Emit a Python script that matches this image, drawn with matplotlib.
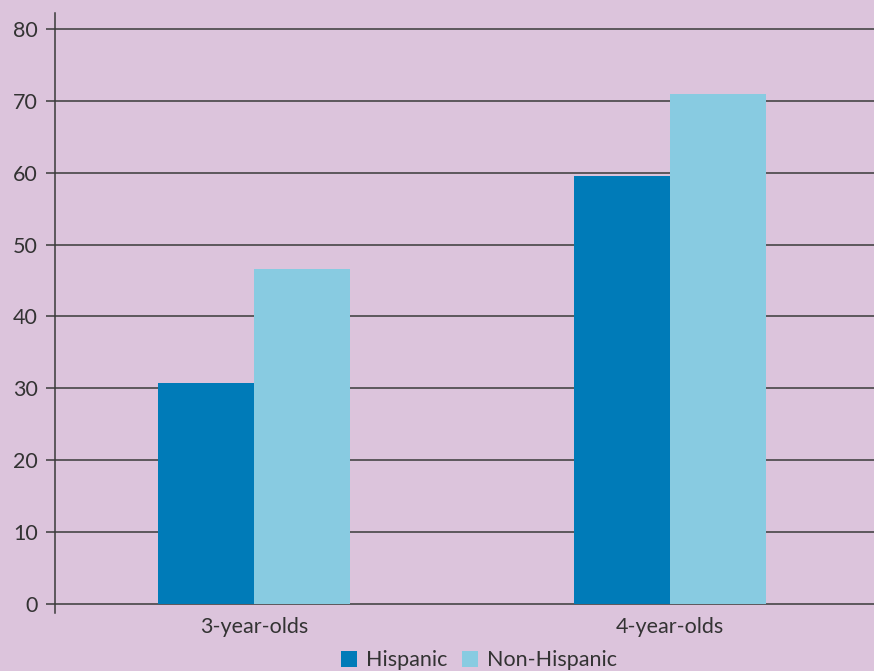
import matplotlib.pyplot as plt
import numpy as np

plt.rcParams['font.family'] = ['Lato', 'DejaVu Sans']

groups = ['3-year-olds', '4-year-olds']
hispanic = [30.7, 59.5]
non_hispanic = [46.6, 71.0]

bg = '#dcc4dc'
dark = '#3a3a3a'

fig = plt.figure(figsize=(8.74, 6.71), dpi=100, facecolor=bg)
ax = fig.add_axes([55 / 874, 58 / 671, 819 / 874, 600 / 671], facecolor=bg)

x = np.arange(len(groups))
w = 0.2308
ax.bar(x - w / 2, hispanic, w, color='#007bb8', label='Hispanic', zorder=3)
ax.bar(x + w / 2, non_hispanic, w, color='#88cbe1', label='Non-Hispanic', zorder=3)

ax.set_xlim(-0.478, 1.49)
ax.set_ylim(-1.25, 82.2)
ax.set_yticks(range(0, 81, 10))
ax.yaxis.grid(True, color=dark, linewidth=1.1, zorder=1)
ax.set_axisbelow(True)

for s in ['top', 'right', 'bottom']:
    ax.spines[s].set_visible(False)
ax.spines['left'].set_color(dark)
ax.spines['left'].set_linewidth(1.1)

ax.tick_params(axis='y', length=6.5, width=1.1, color=dark, labelsize=15.5,
               labelcolor='#333333', pad=6)
ax.set_xticks(x)
ax.set_xticklabels(groups)
ax.tick_params(axis='x', length=0, labelsize=15.5, labelcolor='#333333', pad=3)

fig.legend(loc='lower center', bbox_to_anchor=(0.548, -0.028), ncol=2, frameon=False,
           fontsize=15.5, labelcolor='#333333', handlelength=0.75, handleheight=0.75,
           handletextpad=0.4, columnspacing=0.7)

fig.savefig('out.png', dpi=100, facecolor=bg)
